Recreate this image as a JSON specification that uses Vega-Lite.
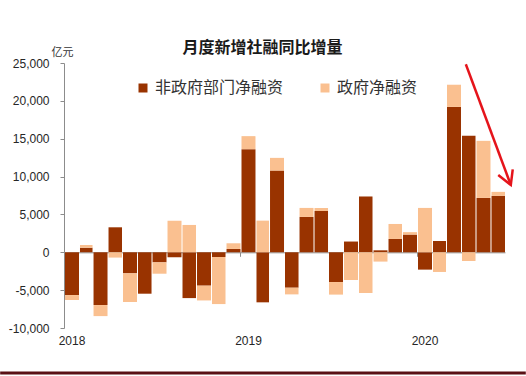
{
  "$schema": "https://vega.github.io/schema/vega-lite/v6.json",
  "width": 441,
  "height": 265,
  "autosize": {"type": "none"},
  "padding": {"left": 64, "top": 63, "right": 21, "bottom": 48},
  "background": "#ffffff",
  "config": {
    "view": {"stroke": null},
    "font": "Liberation Sans"
  },
  "title": {
    "text": "月度新增社融同比增量",
    "font": "Noto Sans CJK SC",
    "fontSize": 16,
    "fontWeight": "bold",
    "color": "#1a1a1a",
    "anchor": "middle",
    "dx": -22,
    "dy": 20,
    "offset": 10
  },
  "resolve": {"axis": {"x": "independent", "y": "independent"}},
  "datasets": {
    "flow": [
      {"month": "2018-01-01", "series": "非政府部门净融资", "value": -5650},
      {"month": "2018-01-01", "series": "政府净融资", "value": -650},
      {"month": "2018-02-01", "series": "非政府部门净融资", "value": 600},
      {"month": "2018-02-01", "series": "政府净融资", "value": 350},
      {"month": "2018-03-01", "series": "非政府部门净融资", "value": -6970},
      {"month": "2018-03-01", "series": "政府净融资", "value": -1460},
      {"month": "2018-04-01", "series": "非政府部门净融资", "value": 3300},
      {"month": "2018-04-01", "series": "政府净融资", "value": -700},
      {"month": "2018-05-01", "series": "非政府部门净融资", "value": -2780},
      {"month": "2018-05-01", "series": "政府净融资", "value": -3790},
      {"month": "2018-06-01", "series": "非政府部门净融资", "value": -5470},
      {"month": "2018-06-01", "series": "政府净融资", "value": 0},
      {"month": "2018-07-01", "series": "非政府部门净融资", "value": -1330},
      {"month": "2018-07-01", "series": "政府净融资", "value": -1500},
      {"month": "2018-08-01", "series": "非政府部门净融资", "value": -660},
      {"month": "2018-08-01", "series": "政府净融资", "value": 4180},
      {"month": "2018-09-01", "series": "非政府部门净融资", "value": -6050},
      {"month": "2018-09-01", "series": "政府净融资", "value": 3610},
      {"month": "2018-10-01", "series": "非政府部门净融资", "value": -4410},
      {"month": "2018-10-01", "series": "政府净融资", "value": -1950},
      {"month": "2018-11-01", "series": "非政府部门净融资", "value": -620},
      {"month": "2018-11-01", "series": "政府净融资", "value": -6220},
      {"month": "2018-12-01", "series": "非政府部门净融资", "value": 440},
      {"month": "2018-12-01", "series": "政府净融资", "value": 750},
      {"month": "2019-01-01", "series": "非政府部门净融资", "value": 13620},
      {"month": "2019-01-01", "series": "政府净融资", "value": 1720},
      {"month": "2019-02-01", "series": "非政府部门净融资", "value": -6610},
      {"month": "2019-02-01", "series": "政府净融资", "value": 4180},
      {"month": "2019-03-01", "series": "非政府部门净融资", "value": 10790},
      {"month": "2019-03-01", "series": "政府净融资", "value": 1680},
      {"month": "2019-04-01", "series": "非政府部门净融资", "value": -4680},
      {"month": "2019-04-01", "series": "政府净融资", "value": -880},
      {"month": "2019-05-01", "series": "非政府部门净融资", "value": 4670},
      {"month": "2019-05-01", "series": "政府净融资", "value": 1190},
      {"month": "2019-06-01", "series": "非政府部门净融资", "value": 5460},
      {"month": "2019-06-01", "series": "政府净融资", "value": 400},
      {"month": "2019-07-01", "series": "非政府部门净融资", "value": -3930},
      {"month": "2019-07-01", "series": "政府净融资", "value": -1660},
      {"month": "2019-08-01", "series": "非政府部门净融资", "value": 1420},
      {"month": "2019-08-01", "series": "政府净融资", "value": -3660},
      {"month": "2019-09-01", "series": "非政府部门净融资", "value": 7370},
      {"month": "2019-09-01", "series": "政府净融资", "value": -5380},
      {"month": "2019-10-01", "series": "非政府部门净融资", "value": 260},
      {"month": "2019-10-01", "series": "政府净融资", "value": -1230},
      {"month": "2019-11-01", "series": "非政府部门净融资", "value": 1760},
      {"month": "2019-11-01", "series": "政府净融资", "value": 1980},
      {"month": "2019-12-01", "series": "非政府部门净融资", "value": 2340},
      {"month": "2019-12-01", "series": "政府净融资", "value": 320},
      {"month": "2020-01-01", "series": "非政府部门净融资", "value": -2290},
      {"month": "2020-01-01", "series": "政府净融资", "value": 5860},
      {"month": "2020-02-01", "series": "非政府部门净融资", "value": 1490},
      {"month": "2020-02-01", "series": "政府净融资", "value": -2600},
      {"month": "2020-03-01", "series": "非政府部门净融资", "value": 19200},
      {"month": "2020-03-01", "series": "政府净融资", "value": 2930},
      {"month": "2020-04-01", "series": "非政府部门净融资", "value": 15380},
      {"month": "2020-04-01", "series": "政府净融资", "value": -1150},
      {"month": "2020-05-01", "series": "非政府部门净融资", "value": 7180},
      {"month": "2020-05-01", "series": "政府净融资", "value": 7540},
      {"month": "2020-06-01", "series": "非政府部门净融资", "value": 7450},
      {"month": "2020-06-01", "series": "政府净融资", "value": 530}
    ],
    "trend_arrow": [
      {"part": "shaft", "step": 1, "date": "2020-04-11", "value": 24830},
      {"part": "shaft", "step": 2, "date": "2020-07-13", "value": 8890},
      {"part": "head", "step": 1, "date": "2020-06-17", "value": 10210},
      {"part": "head", "step": 2, "date": "2020-07-13", "value": 8890},
      {"part": "head", "step": 3, "date": "2020-07-17", "value": 10960}
    ],
    "frame_line": [
      {"start": "2017-08-22", "end": "2020-08-13", "value": -15940}
    ]
  },
  "layer": [
    {
      "data": {"name": "flow"},
      "mark": {"type": "bar", "timeUnitBandSize": 0.79},
      "encoding": {
        "x": {
          "field": "month",
          "type": "temporal",
          "timeUnit": "yearmonth",
          "scale": {"domain": [{"year": 2018, "month": 1, "date": 1}, {"year": 2020, "month": 7, "date": 1}]},
          "axis": {
            "values": [{"year": 2018, "month": 1, "date": 1}, {"year": 2019, "month": 1, "date": 1}, {"year": 2020, "month": 1, "date": 1}],
            "format": "%Y",
            "labelOffset": 7.5,
            "labelFlush": false,
            "offset": -75.7,
            "labelPadding": 79,
            "tickSize": 4,
            "domainColor": "#8c8c8c",
            "tickColor": "#8c8c8c",
            "labelFontSize": 12,
            "labelColor": "#262626",
            "title": null,
            "grid": false
          }
        },
        "y": {
          "field": "value",
          "type": "quantitative",
          "stack": "zero",
          "scale": {"domain": [-10000, 25000], "nice": false},
          "axis": {
            "values": [-10000, -5000, 0, 5000, 10000, 15000, 20000, 25000],
            "labelExpr": "replace(format(datum.value, ','), '\u2212', '-')",
            "labelOverlap": false,
            "tickSize": 4,
            "labelPadding": 11,
            "domainColor": "#8c8c8c",
            "tickColor": "#8c8c8c",
            "labelFontSize": 12,
            "labelColor": "#262626",
            "grid": false,
            "title": "亿元",
            "titleAngle": 0,
            "titleX": -2,
            "titleY": -11,
            "titleAlign": "center",
            "titleBaseline": "middle",
            "titleFont": "Noto Sans CJK SC",
            "titleFontSize": 11,
            "titleFontWeight": "normal",
            "titleColor": "#333333"
          }
        },
        "color": {
          "field": "series",
          "type": "nominal",
          "scale": {"domain": ["非政府部门净融资", "政府净融资"], "range": ["#993300", "#FAC090"]},
          "legend": {
            "orient": "none",
            "legendX": 71,
            "legendY": 17,
            "direction": "horizontal",
            "title": null,
            "symbolType": "square",
            "symbolSize": 81,
            "symbolStrokeWidth": 0,
            "labelFontSize": 16,
            "labelFont": "Noto Sans CJK SC",
            "labelColor": "#333333",
            "labelOffset": 4,
            "columnPadding": 33,
            "padding": 0
          }
        },
        "order": {"field": "series", "sort": "descending"}
      }
    },
    {
      "data": {"name": "trend_arrow"},
      "mark": {"type": "line", "color": "#E5141B", "strokeWidth": 2.5, "clip": false},
      "encoding": {
        "x": {"field": "date", "type": "temporal", "axis": null},
        "y": {"field": "value", "type": "quantitative", "axis": null},
        "detail": {"field": "part"},
        "order": {"field": "step"}
      }
    },
    {
      "data": {"name": "frame_line"},
      "mark": {"type": "rule", "color": "#5A1015", "strokeWidth": 3, "clip": false},
      "encoding": {
        "x": {"field": "start", "type": "temporal", "axis": null},
        "x2": {"field": "end"},
        "y": {"field": "value", "type": "quantitative", "axis": null}
      }
    }
  ]
}
